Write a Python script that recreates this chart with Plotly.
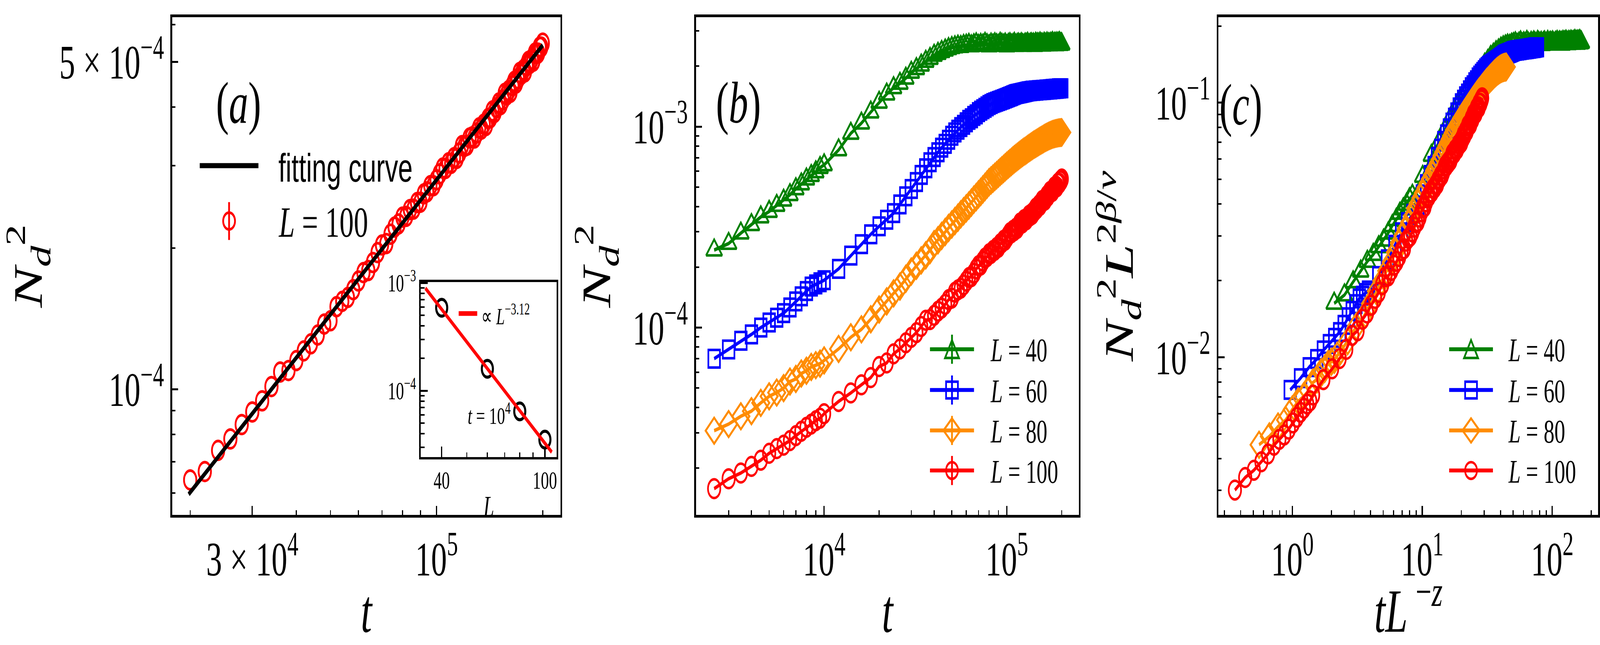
import plotly.graph_objects as go

# ---------------- data ----------------
T = [2500, 3000, 3500, 4000, 4500, 5000, 5500, 6000, 6500, 7000,
     7500, 8000, 8500, 9000, 9500, 10000,
     12000, 14000, 16000, 18000, 20000, 22000, 24000, 26000, 28000, 30000,
     32000, 34000, 36000, 38000, 40000, 42000, 44000, 46000, 48000, 50000,
     52000, 54000, 56000, 58000, 60000, 62000, 64000, 66000, 68000, 70000,
     72000, 74000, 76000, 78000, 80000, 82000, 84000, 86000, 88000, 90000,
     92000, 94000, 96000, 98000, 100000, 102000, 104000, 106000, 108000, 110000,
     112000, 114000, 116000, 118000, 120000, 122000, 124000, 126000, 128000, 130000,
     132000, 134000, 136000, 138000, 140000, 142000, 144000, 146000, 148000, 150000,
     152000, 154000, 156000, 158000, 160000, 162000, 164000, 166000, 168000, 170000,
     172000, 174000, 176000, 178000, 180000, 182000, 184000, 186000, 188000, 190000,
     192000, 194000, 196000, 198000, 200000]

# L = 40, units of 1e-4
N40_e4 = [2.43, 2.62, 2.95, 3.25, 3.55, 3.78, 4.05, 4.30, 4.58, 4.90,
          5.18, 5.48, 5.70, 5.95, 6.25, 6.45,
          7.65, 9.25, 10.4, 11.8, 13.2, 14.5, 15.6, 16.4, 17.4, 18.6,
          19.4, 20.2, 21.1, 21.8, 22.6, 23.1, 23.6, 24.0, 24.4, 24.7,
          24.9, 25.1, 25.0, 25.3, 25.4,
          25.6, 25.2, 25.5, 25.8, 25.3, 25.6, 25.4, 25.9, 25.5, 25.2,
          25.7, 25.4, 25.8, 25.5, 25.3, 25.9, 25.6, 25.4, 25.7, 25.2,
          25.6, 25.8, 25.4, 25.5, 25.9, 25.3, 25.6, 25.7, 25.4, 25.8,
          25.5, 25.3, 25.7, 25.6, 25.9, 25.4, 25.6, 25.8, 25.5, 25.7,
          25.3, 25.9, 25.6, 25.8, 25.5, 26.0, 25.6, 25.7, 25.4, 25.9,
          25.7, 25.5, 26.0, 25.6, 25.8, 25.5, 25.9, 25.7, 26.1, 25.6,
          25.8, 25.9, 25.5, 26.0, 25.7, 25.9, 26.1, 25.6, 25.8, 25.7]

# L = 60, units of 1e-5
N60_e5 = [7.00, 7.78, 8.60, 9.25, 10.0, 10.6, 11.2, 11.8, 12.6, 13.5,
          14.3, 15.2, 16.0, 16.4, 16.8, 17.2,
          19.6, 22.8, 26.0, 29.1, 31.9, 34.4, 37.1, 41.0, 45.0, 48.9,
          53.0, 57.5, 62.0, 66.5, 70.5, 74.5, 78.5, 82.0, 86.0, 90.0,
          93.5, 96.5, 99.5, 102, 105,
          108, 110, 113, 115, 118, 120, 122, 124, 126, 128,
          129.5, 131, 132, 133, 134, 135, 136, 137, 138, 139,
          140, 141, 142, 143, 144, 145, 145.5, 146, 146.5, 147,
          147.5, 148, 148.5, 149, 149.5,
          150, 150, 150.5, 151, 150.5, 151, 151.5, 151, 151.5, 152,
          151.5, 152, 152, 152.5, 152, 152.5, 153, 152.5, 153, 153,
          153.5, 153, 153.5, 154, 153.5, 154, 154, 154.5, 154, 154.5,
          155, 154.5, 155, 155, 155]

# L = 80, units of 1e-5
N80_e5 = [3.07, 3.31, 3.62, 3.84, 4.22, 4.55, 4.75, 5.00, 5.39, 5.55,
          5.91, 6.10, 6.37, 6.50, 6.62, 6.87,
          7.83, 8.95, 9.80, 11.0, 12.3, 13.5, 14.8, 16.0, 17.5, 19.0,
          20.3, 21.6, 22.9, 24.3, 26.0, 27.2, 28.6, 29.9, 31.3, 32.6,
          33.9, 35.2, 36.6, 37.9, 39.2, 40.5, 41.9, 43.3, 44.6, 46.0,
          47.3, 48.7, 50.1, 51.5, 52.9, 54.0, 55.1, 56.2, 57.3, 58.4,
          59.5, 60.6, 61.6, 62.7, 63.8,
          64.8, 65.8, 66.8, 67.8, 68.8, 69.7, 70.6, 71.5, 72.4, 73.3,
          74.1, 74.9, 75.6, 76.4, 77.2, 78.0, 78.7, 79.5, 80.2, 81.0,
          81.6, 82.2, 82.9, 83.5, 84.2, 84.8, 85.4, 86.0, 86.6, 87.2,
          87.8, 88.3, 88.8, 89.3, 89.8, 90.2, 90.6, 91.0, 91.4, 91.7,
          92.0, 92.3, 92.5, 92.7, 92.9, 93.1, 93.2, 93.3, 93.4, 93.5]

# L = 100, units of 1e-5
N100_e5 = [1.58, 1.77, 1.89, 2.04, 2.19, 2.37, 2.50, 2.60, 2.74, 2.90,
           3.05, 3.19, 3.31, 3.44, 3.54, 3.73,
           4.29, 4.73, 5.19, 5.64,
           6.40, 6.67, 7.40, 7.83, 8.40, 8.94, 9.44, 10.13, 10.88, 10.96,
           11.51, 12.07, 12.50, 13.05, 13.77, 14.00, 15.00, 15.40, 15.70,
           16.31, 17.02, 17.74, 17.92, 18.64, 19.57, 20.32, 20.46, 21.42, 22.19,
           22.53, 23.30, 23.39, 24.18, 24.24, 25.03, 25.07, 26.12, 26.39, 27.20,
           27.19, 28.00, 28.82, 29.65, 29.60, 30.44, 30.36, 31.20, 31.10, 31.94,
           33.12, 32.99, 33.18, 34.39, 34.57, 34.38, 35.25, 36.14, 35.92, 36.81,
           36.56, 37.84, 37.97, 39.27, 38.98, 39.90, 40.83, 40.51, 41.44, 42.81,
           42.47, 43.42, 43.05, 44.46, 45.43, 45.03, 46.01, 47.46, 47.04, 48.04,
           47.59, 49.08, 50.10, 49.62, 50.64, 50.14, 52.20, 52.20, 52.19, 53.77,
           53.76, 54.82]

SIZES = [40, 60, 80, 100]
LABELS = ["<i>L</i> = 40", "<i>L</i> = 60", "<i>L</i> = 80", "<i>L</i> = 100"]
COLORS = ["#008000", "#0000ff", "#ff8c00", "#ff0000"]
SYMBOLS = ["triangle-up-open", "square-open", "diamond-open", "circle-open"]
LEG_SHAPES = ["triangle", "square", "diamond", "circle"]

# scaling exponents used for panel (c)
Z_EXP = 1.92
TWO_BETA_NU = 1.14

# fitting curve of panel (a): N = FIT_AMP * (t / FIT_T0)**FIT_EXP
FIT_T = [19800, 200000]
FIT_T0 = 1e5
FIT_AMP = 2.80e-4
FIT_EXP = 0.955
T_A_MIN = 20000

# inset: N_d^2 at t = 1e4 versus L
INSET_L = [40, 60, 80, 100]
INSET_N = [5.89e-4, 1.60e-4, 6.45e-5, 3.53e-5]
INSET_FIT_L = [34.6, 106.3]
INSET_FIT_EXP = -3.12
INSET_FIT_REF = (60, 1.607e-4)

# ---------------- derived series ----------------
N40 = [v * 1e-4 for v in N40_e4]
N60 = [v * 1e-5 for v in N60_e5]
N80 = [v * 1e-5 for v in N80_e5]
N100 = [v * 1e-5 for v in N100_e5]
SERIES = [N40, N60, N80, N100]

T_a = [t for t in T if t >= T_A_MIN]
N_a = [n for t, n in zip(T, N100) if t >= T_A_MIN]
fit_y = [FIT_AMP * (t / FIT_T0) ** FIT_EXP for t in FIT_T]
ins_amp = INSET_FIT_REF[1] / INSET_FIT_REF[0] ** INSET_FIT_EXP
ins_fit_y = [ins_amp * L ** INSET_FIT_EXP for L in INSET_FIT_L]

# ---------------- geometry (pixels of the 6213 x 1651 canvas) ----------------
W0, H0 = 6213, 1651
SERIF = "Liberation Serif"
SANS = "Liberation Sans"


def px(x):
    return x / W0


def py(y):
    return 1 - y / H0


def xd(a, b):
    return [px(a), px(b)]


def yd(top, bottom):
    return [py(bottom), py(top)]


fig = go.Figure()

# panel (a)
fig.add_trace(go.Scatter(x=T_a, y=N_a, mode="markers", showlegend=False,
                         marker=dict(symbol="circle-open", size=48, color="#ff0000",
                                     line=dict(width=7, color="#ff0000")),
                         xaxis="x", yaxis="y"))
fig.add_trace(go.Scatter(x=FIT_T, y=fit_y, mode="lines", showlegend=False,
                         line=dict(color="black", width=12),
                         xaxis="x", yaxis="y"))

# inset
fig.add_trace(go.Scatter(x=INSET_L, y=INSET_N, mode="markers", showlegend=False,
                         marker=dict(symbol="circle-open", size=43, color="black",
                                     line=dict(width=8, color="black")),
                         xaxis="x4", yaxis="y4"))
fig.add_trace(go.Scatter(x=INSET_FIT_L, y=ins_fit_y, mode="lines", showlegend=False,
                         line=dict(color="#ff0000", width=10),
                         xaxis="x4", yaxis="y4"))

MSIZE = [54, 45, 51, 48]
for L, col, sym, ys, ms in zip(SIZES, COLORS, SYMBOLS, SERIES, MSIZE):
    fig.add_trace(go.Scatter(x=T, y=ys, mode="lines+markers", showlegend=False,
                             line=dict(color=col, width=9),
                             marker=dict(symbol=sym, size=ms, color=col,
                                         line=dict(width=6.5, color=col)),
                             xaxis="x2", yaxis="y2"))
for L, col, sym, ys, ms in zip(SIZES, COLORS, SYMBOLS, SERIES, MSIZE):
    xs = [t * L ** (-Z_EXP) for t in T]
    yc = [n * L ** TWO_BETA_NU for n in ys]
    fig.add_trace(go.Scatter(x=xs, y=yc, mode="lines+markers", showlegend=False,
                             line=dict(color=col, width=9),
                             marker=dict(symbol=sym, size=ms, color=col,
                                         line=dict(width=6.5, color=col)),
                             xaxis="x3", yaxis="y3"))


def axis(domain, rng, tickvals, ticktext, minor, size=123, lw=7, tl=23, mtl=12,
         title=None, tsize=156, standoff=None, anchor=None):
    d = dict(type="log", domain=domain, range=rng, showline=True, linewidth=lw,
             linecolor="black", mirror=True, ticks="inside", ticklen=tl, tickwidth=4.5,
             tickcolor="black", showgrid=False, zeroline=False, tickmode="array",
             tickvals=tickvals, ticktext=ticktext,
             tickfont=dict(family=SERIF, size=size, color="black"),
             minor=dict(ticks="inside", ticklen=mtl, tickwidth=3.5, tickcolor="black",
                        tickvals=minor, showgrid=False),
             anchor=anchor)
    if title is not None:
        d["title"] = dict(text=title, font=dict(family=SERIF, size=tsize, color="black"))
        if standoff is not None:
            d["title"]["standoff"] = standoff
    return d


# ---------------- hand-drawn legend keys (layout shapes) ----------------
shapes = []
annotations = []


def key_line(x0, x1, y, color, width):
    shapes.append(dict(type="line", xref="paper", yref="paper", x0=px(x0), x1=px(x1),
                       y0=py(y), y1=py(y), line=dict(color=color, width=width)))


def key_vbar(x, y, half, color, width):
    shapes.append(dict(type="line", xref="paper", yref="paper", x0=px(x), x1=px(x),
                       y0=py(y - half), y1=py(y + half), line=dict(color=color, width=width)))


def key_marker(kind, cx, cy, color, width=6.5):
    if kind == "circle":
        r = 23
        shapes.append(dict(type="circle", xref="paper", yref="paper",
                           x0=px(cx - r), x1=px(cx + r), y0=py(cy + r), y1=py(cy - r),
                           line=dict(color=color, width=width)))
        return
    if kind == "square":
        h = 23
        pts = [(cx - h, cy - h), (cx + h, cy - h), (cx + h, cy + h), (cx - h, cy + h)]
    elif kind == "diamond":
        h = 33
        pts = [(cx, cy - h), (cx + h, cy), (cx, cy + h), (cx - h, cy)]
    else:  # triangle
        pts = [(cx, cy - 25), (cx + 27, cy + 24), (cx - 27, cy + 24)]
    path = "M " + " L ".join("%.6f,%.6f" % (px(a), py(b)) for a, b in pts) + " Z"
    shapes.append(dict(type="path", xref="paper", yref="paper", path=path,
                       line=dict(color=color, width=width)))


def key_text(text, x, y, size, family=SERIF):
    annotations.append(dict(text=text, x=px(x), y=py(y), xref="paper", yref="paper",
                            xanchor="left", yanchor="middle", showarrow=False,
                            font=dict(family=family, size=size, color="black")))


# panel (a) legend
key_line(776, 1004, 411, "black", 13)
key_text("fitting curve", 1080, 417, 102, SANS)
key_vbar(890, 563, 52, "#ff0000", 7)
key_marker("circle", 890, 563, "#ff0000", 7)
key_text("<i>L</i> = 100", 1080, 566, 111)

# inset legend
key_line(1782, 1854, 817, "#ff0000", 12)
key_text("∝ <i>L</i><sup>−3.12</sup>", 1868, 820, 60)

# panel (b) and (c) legends
ROWS = [915, 1027, 1138, 1248]
for (x0, x1, xt, bars) in [(3613, 3784, 3846, True), (5630, 5800, 5858, False)]:
    cx = (x0 + x1) / 2
    for yrow, col, kind, lab in zip(ROWS, COLORS, LEG_SHAPES, LABELS):
        key_line(x0, x1, yrow, col, 10)
        if bars:
            key_vbar(cx, yrow, 40, col, 7)
        key_marker(kind, cx, yrow, col)
        key_text(lab, xt, yrow + 3, 84)

# panel letters and inset note
for txt, x, y in [("(<i>a</i>)", 837, 147), ("(<i>b</i>)", 2869, 147), ("(<i>c</i>)", 4905, 152)]:
    annotations.append(dict(text=txt, x=px(x), y=py(y), xref="paper", yref="paper",
                            showarrow=False, font=dict(family=SERIF, size=150, color="black")))
annotations.append(dict(text="<i>t</i> = 10<sup>4</sup>", x=px(1815), y=py(1092), xref="paper",
                        yref="paper", showarrow=False,
                        font=dict(family=SERIF, size=62, color="black")))

NT = "<i>N</i><sub><i>d</i></sub><sup>2</sup>"
layout = dict(
    width=W0, height=H0, margin=dict(l=0, r=0, t=0, b=0),
    paper_bgcolor="white", plot_bgcolor="white", showlegend=False,
    xaxis=axis(xd(669, 2177), [4.250, 5.351], [3e4, 1e5], ["3 × 10<sup>4</sup>", "10<sup>5</sup>"],
               [2e4, 4e4, 5e4, 6e4, 7e4, 8e4, 9e4, 2e5], title="<i>t</i>", standoff=42, anchor="y"),
    yaxis=axis(yd(3, 1370), [-4.2686, -3.2055], [1e-4, 5e-4], ["10<sup>−4</sup>", "5 × 10<sup>−4</sup>"],
               [6e-5, 7e-5, 8e-5, 9e-5, 2e-4, 3e-4, 4e-4, 6e-4], title=NT, standoff=36, anchor="x"),
    xaxis2=axis(xd(2704, 4191), [3.2986, 5.394], [1e4, 1e5], ["10<sup>4</sup>", "10<sup>5</sup>"],
                [3e3, 4e3, 5e3, 6e3, 7e3, 8e3, 9e3, 2e4, 3e4, 4e4, 5e4, 6e4, 7e4, 8e4, 9e4, 2e5],
                title="<i>t</i>", standoff=42, anchor="y2"),
    yaxis2=axis(yd(3, 1370), [-4.932, -2.4554], [1e-4, 1e-3], ["10<sup>−4</sup>", "10<sup>−3</sup>"],
                [2e-5, 3e-5, 4e-5, 5e-5, 6e-5, 7e-5, 8e-5, 9e-5, 2e-4, 3e-4, 4e-4, 5e-4, 6e-4,
                 7e-4, 8e-4, 9e-4, 2e-3, 3e-3], title=NT, standoff=36, anchor="x2"),
    xaxis3=axis(xd(4734, 6209), [-0.568, 2.354], [1, 10, 100],
                ["10<sup>0</sup>", "10<sup>1</sup>", "10<sup>2</sup>"],
                [0.3, 0.4, 0.5, 0.6, 0.7, 0.8, 0.9, 2, 3, 4, 5, 6, 7, 8, 9,
                 20, 30, 40, 50, 60, 70, 80, 90, 200],
                title="<i>tL</i>\u2009<sup>−<i>z</i></sup>", standoff=42, anchor="y3"),
    yaxis3=axis(yd(3, 1370), [-2.619, -0.664], [0.01, 0.1], ["10<sup>−2</sup>", "10<sup>−1</sup>"],
                [3e-3, 4e-3, 5e-3, 6e-3, 7e-3, 8e-3, 9e-3, 0.02, 0.03, 0.04, 0.05, 0.06, 0.07,
                 0.08, 0.09, 0.2],
                title=NT + "<i>L</i><sup>2<i>β</i>/<i>ν</i></sup>", standoff=36, anchor="x3"),
    xaxis4=axis(xd(1635, 2163), [1.5217, 2.0457], [40, 100], ["40", "100"],
                [50, 60, 70, 80, 90], size=63, lw=6, tl=27, mtl=12,
                title="<i>L</i>", tsize=75, standoff=6, anchor="y4"),
    yaxis4=axis(yd(731, 1211), [-4.614, -2.993], [1e-4, 1e-3], ["10<sup>−4</sup>", "10<sup>−3</sup>"],
                [3e-5, 4e-5, 5e-5, 6e-5, 7e-5, 8e-5, 9e-5, 2e-4, 3e-4, 4e-4, 5e-4, 6e-4,
                 7e-4, 8e-4, 9e-4], size=63, lw=6, tl=27, mtl=15, anchor="x4"),
    shapes=shapes,
    annotations=annotations,
)
fig.update_layout(**layout)

# The browser window may be narrower than the requested canvas; scale the
# finished figure so that the whole 6213 x 1651 canvas fills the window.
post = """
document.documentElement.style.margin='0';
document.documentElement.style.overflow='hidden';
document.body.style.margin='0';
document.body.style.overflow='hidden';
var gd=document.getElementById('{plot_id}');
var sx=window.innerWidth/%d, sy=window.innerHeight/%d;
gd.style.transformOrigin='0 0';
gd.style.transform='scale('+sx+','+sy+')';
""" % (W0, H0)
fig.write_html("out.html", post_script=post, config={"displayModeBar": False})
